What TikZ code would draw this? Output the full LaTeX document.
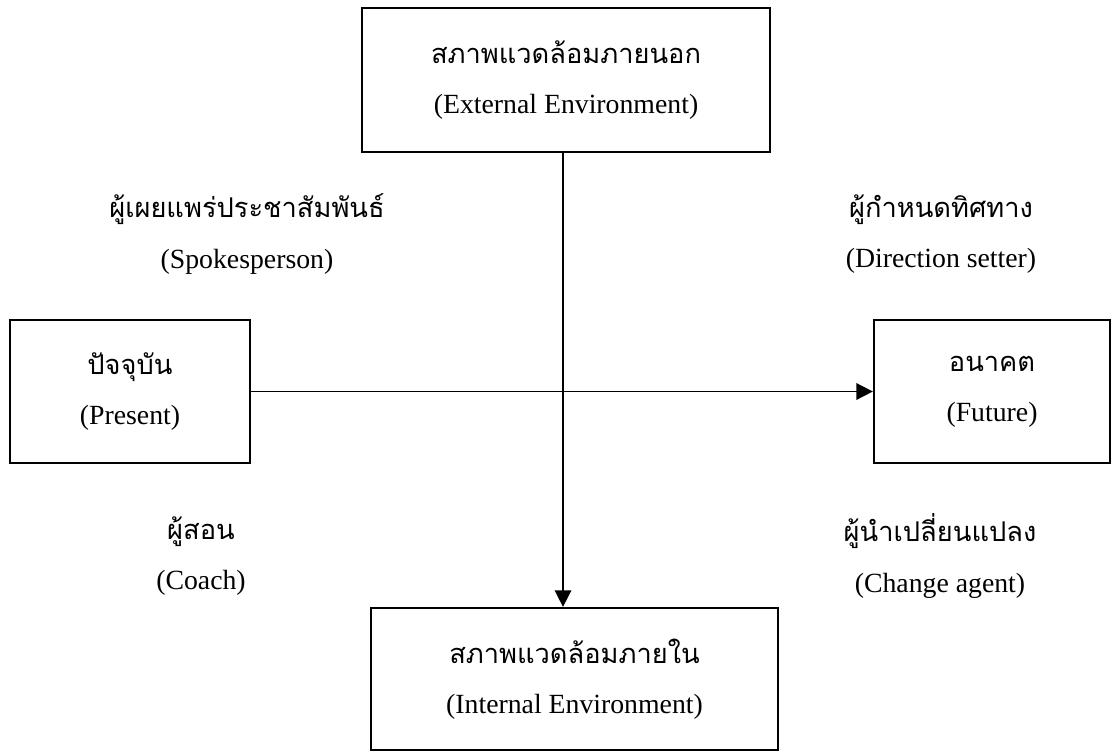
\documentclass[tikz,border=0pt]{standalone}
\usepackage{fontspec}
\setmainfont{Liberation Serif}
\newfontfamily\thaifont[Script=Thai]{Loma}
\usetikzlibrary{arrows.meta}
\newcommand\thtxt[1]{{\thaifont\fontsize{15.5}{28}\selectfont #1}}

\begin{document}
\begin{tikzpicture}[x=0.02cm,y=-0.02cm,line width=0.9pt,>={Triangle[length=3.3mm,width=3.3mm]},
  envbox/.style={draw,line width=1.3pt,inner sep=0pt,align=center,font=\fontsize{15.8}{28.5}\selectfont},
  rolelbl/.style={align=center,font=\fontsize{15.8}{28.5}\selectfont}]
  \useasboundingbox (0,0) rectangle (1112,751);
  % boxes
  \node[envbox,minimum width=8.16cm,minimum height=2.88cm] (ext) at (566,80)
     {\thtxt{สภาพแวดล้อมภายนอก}\\(External Environment)};
  \node[envbox,minimum width=4.8cm,minimum height=2.86cm] (pres) at (130,391.5)
     {\thtxt{ปัจจุบัน}\\(Present)};
  \node[envbox,minimum width=4.72cm,minimum height=2.86cm] (fut) at (992,391.5)
     {\thtxt{อนาคต}\\(Future)};
  \node[envbox,minimum width=8.14cm,minimum height=2.84cm] (int) at (574.5,679)
     {\thtxt{สภาพแวดล้อมภายใน}\\(Internal Environment)};
  % roles
  \node[rolelbl] (spokes) at (247,234) {\thtxt{ผู้เผยแพร่ประชาสัมพันธ์}\\(Spokesperson)};
  \node[rolelbl] (dirset) at (941,234) {\thtxt{ผู้กำหนดทิศทาง}\\(Direction setter)};
  \node[rolelbl] (coach) at (201,556) {\thtxt{ผู้สอน}\\(Coach)};
  \node[rolelbl] (chagent) at (940,556) {\thtxt{ผู้นำเปลี่ยนแปลง}\\(Change agent)};
  % arrows
  \draw[->] ([xshift=-0.06cm]ext.south) -- ([xshift=-0.06cm]ext.south |- int.north);
  \draw[->] (pres.east) -- (fut.west);
\end{tikzpicture}
\end{document}
